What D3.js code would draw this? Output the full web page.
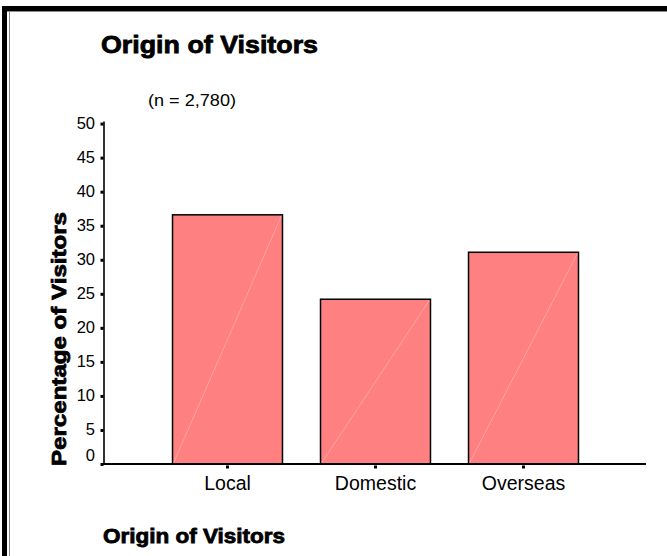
<!DOCTYPE html>
<html>
<head>
<meta charset="utf-8">
<script src="https://cdn.jsdelivr.net/npm/d3@7"></script>
<style>
  html, body { margin: 0; padding: 0; background: #fff; }
  svg { display: block; }
</style>
</head>
<body>
<svg id="chart" width="667" height="556"></svg>
<script>
// Share of visitors by origin (percent)
const categories = ["Local", "Domestic", "Overseas"];
const percentages = [36.6, 24.2, 31.1];
const yTicks = [0, 5, 10, 15, 20, 25, 30, 35, 40, 45, 50];

const svg = d3.select("#chart");
const sans = "'Liberation Sans', Arial, sans-serif";

// page frame: heavy black rule top and left with a thin grey inner line
svg.append("rect").attr("x", 2).attr("y", 6).attr("width", 665).attr("height", 5).attr("fill", "#000");
svg.append("rect").attr("x", 2).attr("y", 6).attr("width", 5).attr("height", 550).attr("fill", "#000");
svg.append("line").attr("x1", 9.5).attr("x2", 9.5).attr("y1", 11).attr("y2", 556)
  .attr("stroke", "#8a8a8a").attr("stroke-width", 1);
svg.append("line").attr("x1", 7).attr("x2", 667).attr("y1", 11.5).attr("y2", 11.5)
  .attr("stroke", "#8a8a8a").attr("stroke-width", 1);

// scales
const y = d3.scaleLinear().domain([0, 50]).range([464, 123.6]);
const x = d3.scaleBand().domain(categories)
  .range([153.5, 597.5]).paddingInner(0.257).paddingOuter(0.1285);

// titles (heavy face: bold plus a thin outline)
function heavyText(px, py, size, len, str) {
  return svg.append("text").attr("x", px).attr("y", py)
    .attr("font-family", sans).attr("font-weight", "bold").attr("font-size", size)
    .attr("stroke", "#000").attr("stroke-width", 0.8)
    .attr("textLength", len).attr("lengthAdjust", "spacingAndGlyphs")
    .text(str);
}

heavyText(101, 53, 24, 217, "Origin of Visitors");

svg.append("text").attr("x", 148).attr("y", 106)
  .attr("font-family", sans).attr("font-size", 17)
  .attr("textLength", 88).attr("lengthAdjust", "spacingAndGlyphs")
  .text("(n = 2,780)");

heavyText(0, 0, 20.5, 254, "Percentage of Visitors")
  .attr("x", null).attr("y", null)
  .attr("transform", "translate(66,339) rotate(-90)")
  .attr("text-anchor", "middle");

heavyText(103, 543, 20.5, 182, "Origin of Visitors");

// bars with a faint diagonal highlight
const bars = svg.append("g");
bars.selectAll("rect").data(categories).join("rect")
  .attr("x", d => x(d))
  .attr("y", (d, i) => y(percentages[i]))
  .attr("width", x.bandwidth())
  .attr("height", (d, i) => y(0) - y(percentages[i]))
  .attr("fill", "#ff8080")
  .attr("stroke", "#000").attr("stroke-width", 1.5);

bars.selectAll("line").data(categories).join("line")
  .attr("x1", d => x(d) + 1)
  .attr("y1", y(0) - 1)
  .attr("x2", d => x(d) + x.bandwidth() - 1)
  .attr("y2", (d, i) => y(percentages[i]) + 1)
  .attr("stroke", "#fff").attr("stroke-opacity", 0.35).attr("stroke-width", 0.8);

// y axis
const yAxis = svg.append("g").attr("transform", "translate(104,0)")
  .call(d3.axisLeft(y).tickValues(yTicks).tickSize(0).tickPadding(9));
yAxis.select(".domain").attr("stroke", "#333").attr("stroke-width", 2)
  .attr("d", `M0,${y(50) - 2}V${y(0)}`);
yAxis.selectAll(".tick text")
  .attr("font-family", sans)
  .attr("font-size", 16.5).attr("fill", "#000")
  .attr("dy", d => d === 0 ? "-0.2em" : "0.3em");
yAxis.selectAll(".tick").append("rect")
  .attr("x", -3.5).attr("y", -1.5).attr("width", 3).attr("height", 3).attr("fill", "#000");

// x axis
const xAxis = svg.append("g").attr("transform", `translate(0,${y(0)})`)
  .call(d3.axisBottom(x).tickSize(0).tickPadding(12));
xAxis.select(".domain").attr("stroke", "#000").attr("stroke-width", 2)
  .attr("d", "M102,0H646");
xAxis.selectAll(".tick text")
  .attr("font-family", sans)
  .attr("font-size", 19.5).attr("fill", "#000");
xAxis.selectAll(".tick").append("rect")
  .attr("x", -1.5).attr("y", 1.5).attr("width", 3).attr("height", 3).attr("fill", "#000");
</script>
</body>
</html>
